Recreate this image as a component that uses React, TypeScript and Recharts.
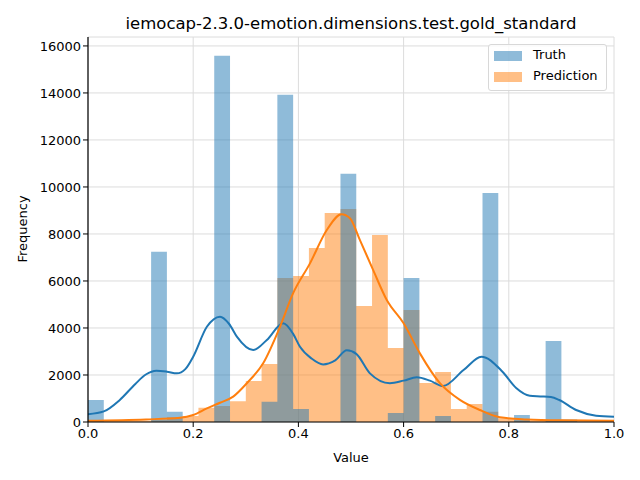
import React from "react";
import {
  ComposedChart,
  Area,
  Line,
  XAxis,
  YAxis,
  CartesianGrid,
} from "recharts";

// histogram bins: width 0.03 starting at 0, last bin cut at 1.0
const binEdges = [
  0, 0.03, 0.06, 0.09, 0.12, 0.15, 0.18, 0.21, 0.24, 0.27, 0.3, 0.33, 0.36, 0.39, 0.42, 0.45, 0.48,
  0.51, 0.54, 0.57, 0.6, 0.63, 0.66, 0.69, 0.72, 0.75, 0.78, 0.81, 0.84, 0.87, 0.9, 0.93, 0.96, 0.99, 1.0,
];
const truthCounts = [
  940, 0, 0, 0, 7240, 440, 0, 0, 15580, 0, 0, 860, 13920, 550, 0, 0, 10560,
  0, 0, 380, 6130, 0, 250, 0, 0, 9740, 0, 300, 0, 3450, 110, 0, 0, 0,
];
const predictionCounts = [
  55, 45, 45, 55, 80, 200, 250, 610, 680, 880, 1740, 2470, 6130, 6210, 7400, 8890, 9060,
  4940, 7960, 3150, 4770, 1660, 2130, 550, 770, 440, 160, 80, 55, 45, 40, 35, 35, 30,
];

// KDE curves
const truthKdeX = [
  0, 0.03, 0.06, 0.09, 0.11, 0.13, 0.15, 0.169, 0.185, 0.2, 0.226, 0.251, 0.268, 0.283, 0.314, 0.34,
  0.371, 0.39, 0.403, 0.425, 0.447, 0.47, 0.492, 0.51, 0.536, 0.574, 0.6, 0.625, 0.65, 0.675, 0.714,
  0.748, 0.788, 0.814, 0.84, 0.86, 0.88, 0.896, 0.928, 0.966, 1.0,
];
const truthKde = [
  330, 450, 930, 1620, 2020, 2180, 2140, 2070, 2250, 2780, 4050, 4480, 4180, 3630, 3060, 3490,
  4200, 3750, 3200, 2700, 2450, 2620, 3050, 2900, 2070, 1650, 1760, 1900, 1760, 1530, 2210,
  2780, 2140, 1450, 1120, 1090, 1060, 936, 510, 270, 225,
];
const predictionKdeX = [
  0, 0.11, 0.175, 0.2, 0.226, 0.251, 0.276, 0.302, 0.333, 0.365, 0.39, 0.422, 0.454, 0.482, 0.498,
  0.517, 0.542, 0.568, 0.6, 0.631, 0.669, 0.707, 0.745, 0.783, 0.834, 0.9, 1.0,
];
const predictionKde = [
  55, 110, 180, 300, 580, 820, 1080, 1650, 2500, 4050, 5480, 6750, 8170, 8840, 8670,
  7740, 6470, 5190, 4200, 2920, 1650, 940, 510, 200, 110, 70, 55,
];

const xTicks = [0, 0.2, 0.4, 0.6, 0.8, 1.0];
const yTicks = [0, 2000, 4000, 6000, 8000, 10000, 12000, 14000, 16000];

const stepData = (counts: number[]) =>
  binEdges.map((x, i) => ({ x, y: counts[Math.min(i, counts.length - 1)] }));
const lineData = (xs: number[], ys: number[]) => xs.map((x, i) => ({ x, y: ys[i] }));

const FONT = "'DejaVu Sans', sans-serif";
const tickStyle = { fill: "#000", fontFamily: FONT, fontSize: 13 };

export default function App() {
  return (
    <div style={{ position: "absolute", left: 0, top: 0, width: 640, height: 480, background: "#fff", fontFamily: FONT }}>
      <div style={{ position: "absolute", left: 88, width: 526, top: 14, textAlign: "center", fontSize: 16.5, color: "#000" }}>
        iemocap-2.3.0-emotion.dimensions.test.gold_standard
      </div>
      <div
        style={{
          position: "absolute",
          left: 22,
          top: 229,
          transform: "translate(-50%, -50%) rotate(-90deg)",
          fontSize: 13,
          color: "#000",
        }}
      >
        Frequency
      </div>
      <div style={{ position: "absolute", left: 88, width: 526, top: 450, textAlign: "center", fontSize: 13, color: "#000" }}>
        Value
      </div>
      <ComposedChart width={640} height={480} margin={{ top: 37, right: 26, bottom: 28, left: 28 }}>
        <CartesianGrid stroke="#dcdcdc" strokeWidth={1} />
        <XAxis
          type="number"
          dataKey="x"
          domain={[0, 1]}
          ticks={xTicks}
          allowDataOverflow
          tickFormatter={(v: number) => v.toFixed(1)}
          tick={tickStyle}
          tickSize={5}
          axisLine={{ stroke: "#000", strokeWidth: 1.2 }}
          tickLine={{ stroke: "#000" }}
          height={30}
        />
        <YAxis
          type="number"
          domain={[0, 16380]}
          ticks={yTicks}
          allowDataOverflow
          tick={tickStyle}
          tickSize={5}
          axisLine={{ stroke: "#000", strokeWidth: 1.2 }}
          tickLine={{ stroke: "#000" }}
          width={60}
        />
        <Area
          data={stepData(predictionCounts)}
          dataKey="y"
          type="stepAfter"
          stroke="none"
          fill="#ff7f0e"
          fillOpacity={0.5}
          isAnimationActive={false}
        />
        <Area
          data={stepData(truthCounts)}
          dataKey="y"
          type="stepAfter"
          stroke="none"
          fill="#1f77b4"
          fillOpacity={0.5}
          isAnimationActive={false}
        />
        <Line
          data={lineData(truthKdeX, truthKde)}
          dataKey="y"
          type="monotone"
          stroke="#1f77b4"
          strokeWidth={2}
          dot={false}
          isAnimationActive={false}
        />
        <Line
          data={lineData(predictionKdeX, predictionKde)}
          dataKey="y"
          type="monotone"
          stroke="#ff7f0e"
          strokeWidth={2}
          dot={false}
          isAnimationActive={false}
        />
      </ComposedChart>
      <div
        style={{
          position: "absolute",
          left: 488,
          top: 44,
          width: 117,
          height: 45,
          border: "1px solid #d8d8d8",
          borderRadius: 3,
          background: "rgba(255,255,255,0.8)",
          fontSize: 13,
          color: "#000",
        }}
      >
        <div style={{ position: "absolute", left: 5, top: 6, width: 28, height: 10, background: "rgba(31,119,180,0.5)" }} />
        <div style={{ position: "absolute", left: 44, top: 2 }}>Truth</div>
        <div style={{ position: "absolute", left: 5, top: 27, width: 28, height: 10, background: "rgba(255,127,14,0.5)" }} />
        <div style={{ position: "absolute", left: 44, top: 23 }}>Prediction</div>
      </div>
    </div>
  );
}
